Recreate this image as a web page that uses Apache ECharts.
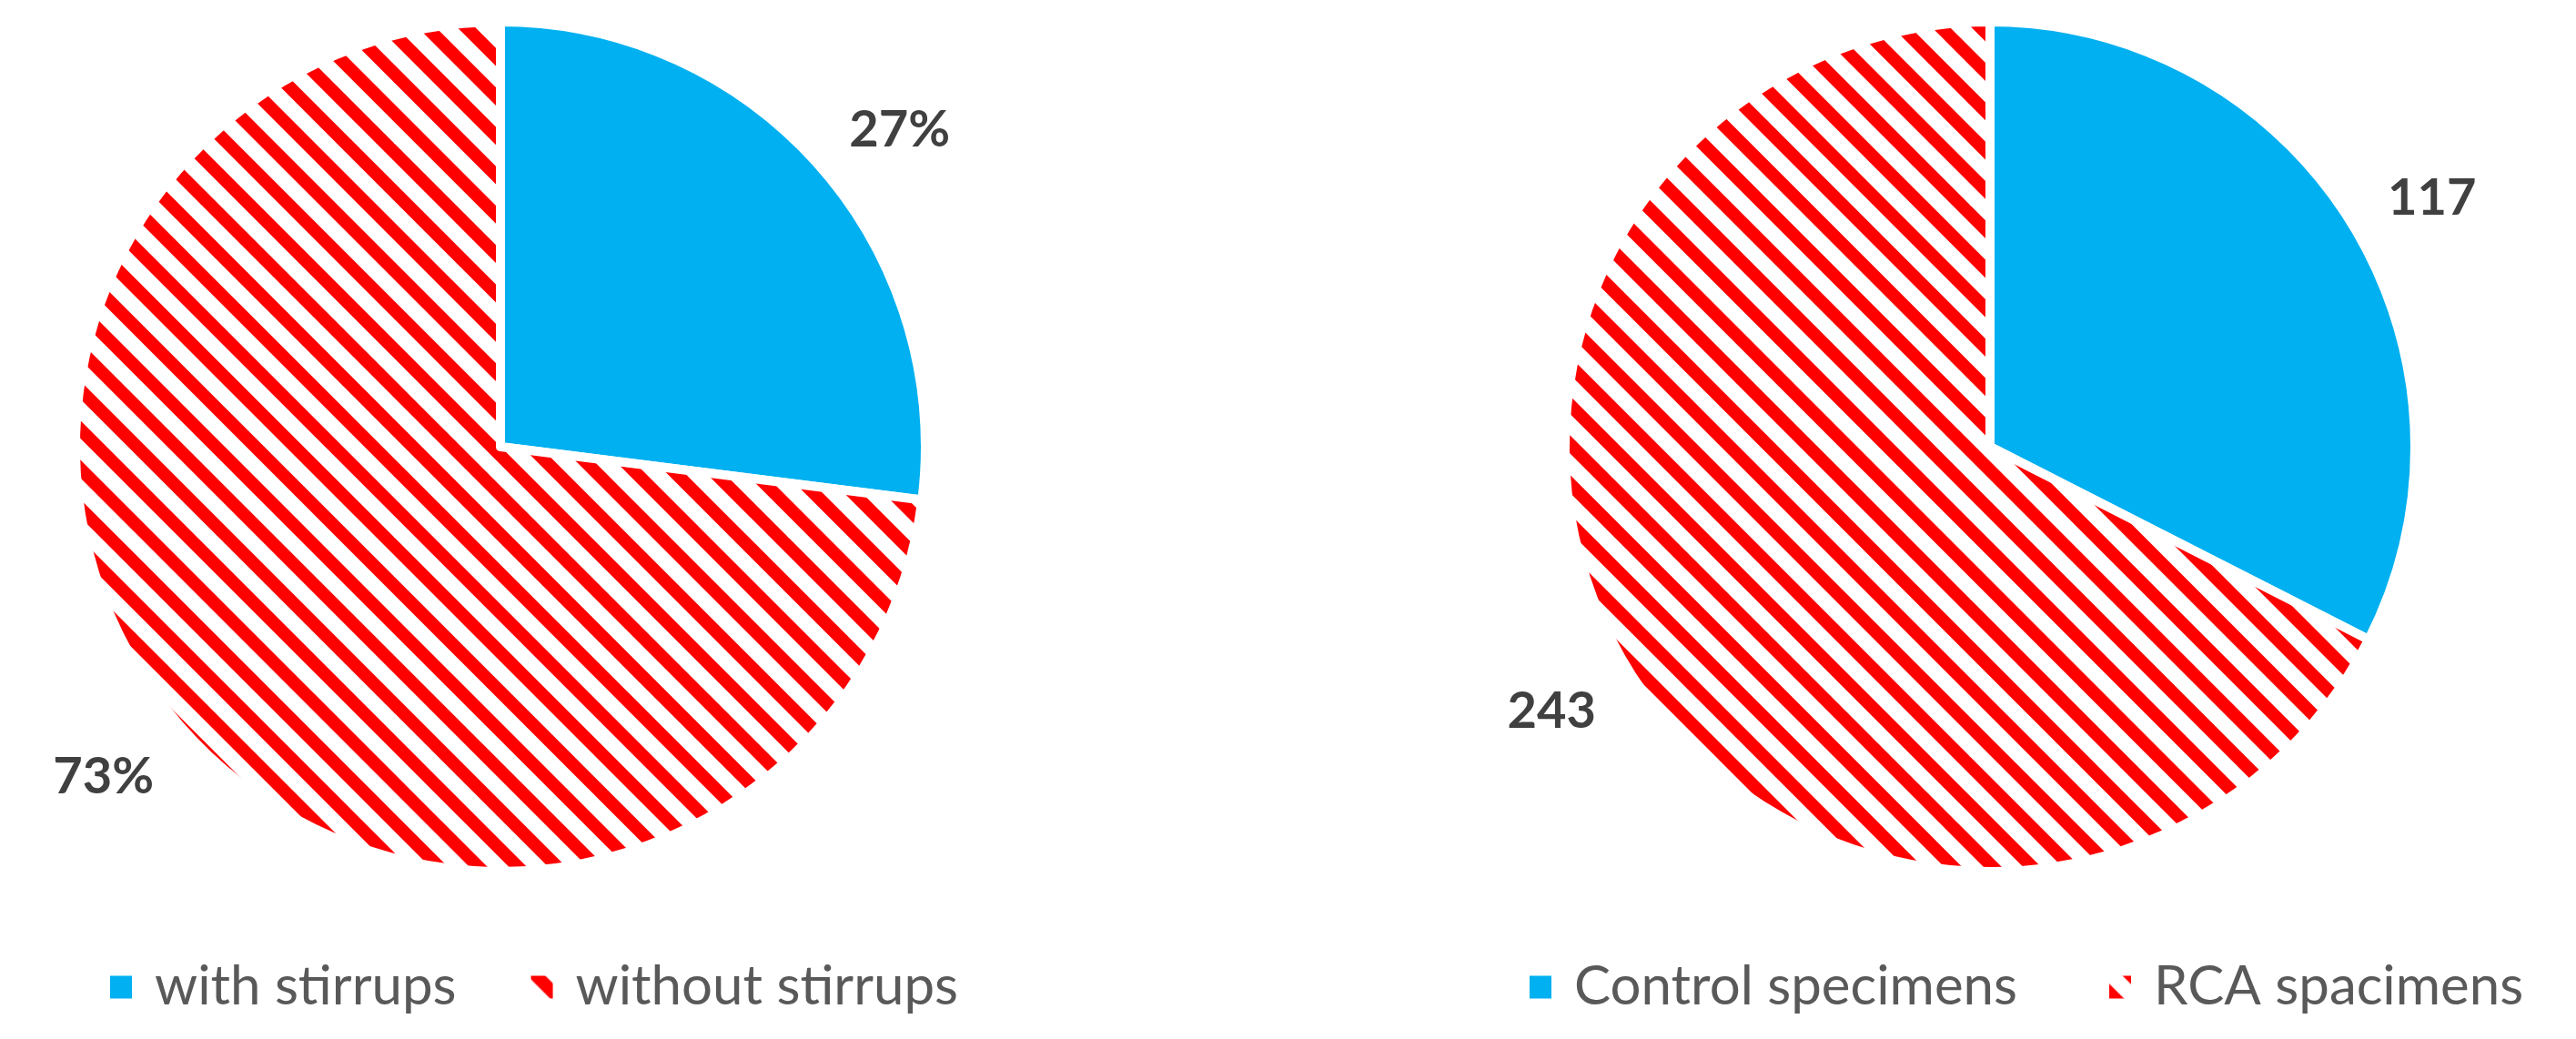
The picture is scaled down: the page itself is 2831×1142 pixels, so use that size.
<!DOCTYPE html>
<html>
<head>
<meta charset="utf-8">
<script src="https://cdn.jsdelivr.net/npm/echarts@6/dist/echarts.min.js"></script>
<style>
html,body{margin:0;padding:0;background:#fff;}
#c{width:2831px;height:1142px;}
</style>
</head>
<body>
<div id="c"></div>
<script>
// Data
const leftCategories = ['with stirrups', 'without stirrups'];
const leftValues = [27, 73];
const rightCategories = ['Control specimens', 'RCA spacimens'];
const rightValues = [117, 243];

const BLUE = '#00B0F0';
const RED = '#FF0000';

function hatch(phase) {
  const period = 43.3, n = 10, size = Math.round(period * n);
  const cv = document.createElement('canvas');
  cv.width = size; cv.height = size;
  const ctx = cv.getContext('2d');
  ctx.fillStyle = '#fff';
  ctx.fillRect(0, 0, size, size);
  ctx.strokeStyle = RED;
  ctx.lineWidth = 14;
  for (let k = -n - 2; k <= n + 2; k++) {
    const x0 = phase + k * (size / n);
    ctx.beginPath();
    ctx.moveTo(x0 - 20, -20);
    ctx.lineTo(x0 + size + 20, size + 20);
    ctx.stroke();
  }
  return { image: cv, repeat: 'repeat' };
}

const leftHatch = hatch(6);
const rightHatch = hatch(24.6);

const labelStyle = {
  show: true,
  position: 'outside',
  fontFamily: 'Lato',
  fontWeight: 'bold',
  fontSize: 56,
  color: '#404040',
  distanceToLabelLine: -10
};

// per-slice label placement tweaks (style only)
const labelTweak = (len, dist) => ({ labelLine: { length: len }, label: { distanceToLabelLine: dist } });

function pieSeries(name, cats, vals, center, colors, fmt, tweaks) {
  return {
    type: 'pie',
    name: name,
    center: center,
    radius: 467,
    startAngle: 90,
    clockwise: true,
    avoidLabelOverlap: false,
    animation: false,
    label: Object.assign({ formatter: fmt }, labelStyle),
    labelLine: { show: false, length: 55, length2: 0 },
    itemStyle: { borderColor: '#fff', borderWidth: 10 },
    emphasis: { disabled: true },
    data: cats.map((c, i) => Object.assign(
      { name: c, value: vals[i], itemStyle: { color: colors[i] } },
      tweaks[i] || {}))
  };
}

const legendText = {
  fontFamily: 'Lato',
  fontSize: 60,
  color: '#595959',
  padding: [0, 0, 0, 19]
};

const chart = echarts.init(document.getElementById('c'), null, { renderer: 'canvas' });
chart.setOption({
  backgroundColor: '#fff',
  animation: false,
  legend: [
    {
      data: leftCategories,
      left: 114,
      top: 1050,
      icon: 'rect',
      itemWidth: 26,
      itemHeight: 27,
      itemGap: 80,
      textStyle: legendText,
      selectedMode: false
    },
    {
      data: rightCategories,
      left: 1674,
      top: 1050,
      icon: 'rect',
      itemWidth: 26,
      itemHeight: 27,
      itemGap: 99,
      textStyle: legendText,
      selectedMode: false
    }
  ],
  series: [
    pieSeries('left', leftCategories, leftValues, [550, 491], [BLUE, leftHatch], '{c}%',
      [labelTweak(60, -12), labelTweak(82, -31)]),
    pieSeries('right', rightCategories, rightValues, [2187, 491], [BLUE, rightHatch], '{c}',
      [labelTweak(55, -8), labelTweak(89, -41)])
  ]
});
</script>
</body>
</html>
